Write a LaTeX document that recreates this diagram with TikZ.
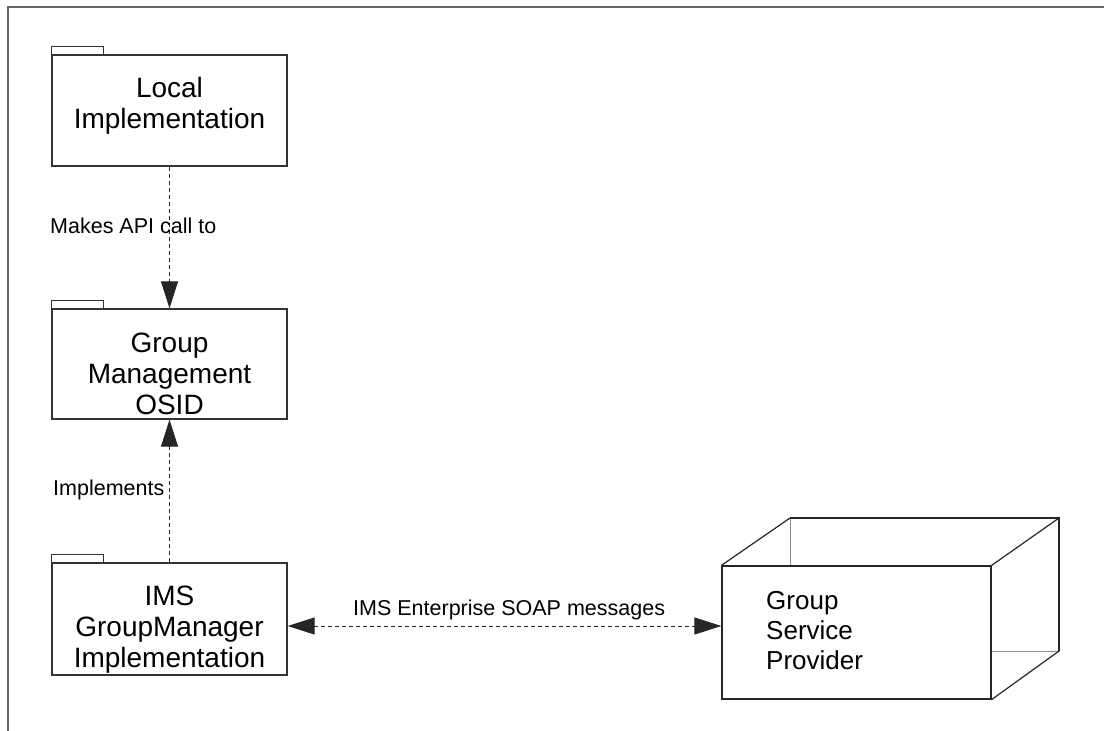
\documentclass[tikz,border=0pt]{standalone}
\usepackage{fontspec}
\setmainfont{Liberation Sans}
\usetikzlibrary{arrows.meta}
\begin{document}
\begin{tikzpicture}[x=1pt,y=-1pt,
  frame/.style={draw=black!60, line width=1.5pt},
  pkg/.style={draw=black!80, line width=1.3pt, fill=white, inner sep=0pt},
  tabbox/.style={draw=black!80, line width=1.3pt, fill=white},
  boxtext/.style={font=\fontsize{28}{31}\selectfont, align=center, inner sep=0pt, anchor=north},
  nodetext/.style={font=\fontsize{26}{30}\selectfont, align=left, inner sep=0pt, anchor=north west},
  lbl/.style={font=\fontsize{21.5}{24}\selectfont, inner sep=0pt, anchor=base west},
  dep/.style={draw=black!85, line width=1pt, dash pattern=on 4pt off 3pt},
  tipend/.style={-{Triangle[length=27pt,width=17pt]}},
  tipboth/.style={{Triangle[length=27pt,width=17pt]}-{Triangle[length=27pt,width=17pt]}},
  edge3d/.style={draw=black!85, line width=1.2pt},
  hidden3d/.style={draw=black!45, line width=1pt}
]
\useasboundingbox (0,0) rectangle (1104,731);

% outer frame
\coordinate (fa) at (8,731);
\coordinate (fb) at (8,7);
\coordinate (fc) at (1104,7);
\draw[frame] (fa) -- (fb) -- (fc);

% packages
\node[pkg, minimum width=235pt, minimum height=111pt] (local) at (169.5,110.5) {};
\draw[tabbox] (local.north west) rectangle ++(52,-8);
\node[boxtext] (localt) at (169.5,77) {Local\\Implementation};

\node[pkg, minimum width=235pt, minimum height=110pt] (gm) at (169.5,364) {};
\draw[tabbox] (gm.north west) rectangle ++(52,-8);
\node[boxtext] (gmt) at (169.5,333) {Group\\Management\\OSID};

\node[pkg, minimum width=235pt, minimum height=112pt] (ims) at (169.5,619) {};
\draw[tabbox] (ims.north west) rectangle ++(52,-8);
\node[boxtext] (imst) at (169.5,586) {IMS\\GroupManager\\Implementation};

% 3D node
\coordinate (b1) at (790,518);
\coordinate (b2) at (1059,518);
\coordinate (b3) at (1059,651);
\coordinate (b4) at (790,651);
\draw[hidden3d] (b1) rectangle (b3);
\draw[edge3d] (b1) -- (b2) -- (b3);
\node[pkg, draw=black!85, line width=1.2pt, minimum width=269pt, minimum height=133pt] (gsp) at (856.5,632.5) {};
\draw[edge3d] (gsp.north west) -- (b1);
\draw[edge3d] (gsp.north east) -- (b2);
\draw[edge3d] (gsp.south east) -- (b3);
\node[nodetext] (gspt) at (766,591) {Group\\Service\\Provider};

% connectors
\draw[dep, tipend] (local.south) -- (gm.north);
\draw[dep, tipend] (ims.north) -- (gm.south);
\coordinate (sy) at (500,626);
\draw[dep, tipboth] (ims.east |- sy) -- (gsp.west |- sy);

% labels
\node[lbl] (l1) at (50,233) {Makes API call to};
\node[lbl] (l2) at (53,495) {Implements};
\node[lbl] (l3) at (353,615) {IMS Enterprise SOAP messages};
\end{tikzpicture}
\end{document}
